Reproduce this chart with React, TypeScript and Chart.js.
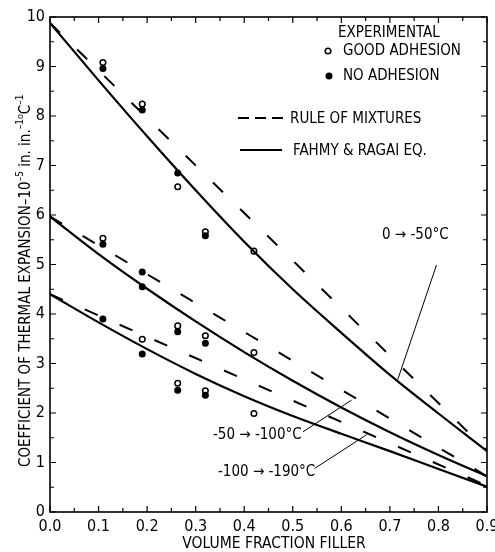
import React, { useEffect, useRef } from 'react';
import { Chart, registerables } from 'chart.js';
Chart.register(...registerables);

const FONT = "'Liberation Sans Narrow', 'DejaVu Sans Condensed', 'Liberation Sans', sans-serif";

// axis ticks
const xTickValues = [0, 0.1, 0.2, 0.3, 0.4, 0.5, 0.6, 0.7, 0.8, 0.9];
const yTickValues = [0, 1, 2, 3, 4, 5, 6, 7, 8, 9, 10];

// Fahmy & Ragai equation curves
const fraction = [0, 0.1, 0.2, 0.3, 0.4, 0.5, 0.6, 0.7, 0.8, 0.9];
const fahmyTop = [9.88, 8.72, 7.59, 6.5, 5.46, 4.5, 3.62, 2.77, 1.99, 1.23];
const fahmyMid = [5.97, 5.21, 4.51, 3.85, 3.23, 2.65, 2.11, 1.61, 1.15, 0.72];
const fahmyLow = [4.4, 3.83, 3.29, 2.79, 2.34, 1.94, 1.58, 1.23, 0.87, 0.51];

// rule of mixtures (linear)
const romX = [0, 0.9];
const romTop = [9.88, 1.24];
const romMid = [5.97, 0.72];
const romLow = [4.4, 0.53];

// experimental points: good adhesion (open)
const goodTopX = [0.109, 0.19, 0.263, 0.32, 0.42];
const goodTopY = [9.08, 8.24, 6.57, 5.66, 5.27];
const goodMidX = [0.109, 0.263, 0.32, 0.42];
const goodMidY = [5.53, 3.76, 3.56, 3.22];
const goodLowX = [0.19, 0.263, 0.32, 0.42];
const goodLowY = [3.49, 2.6, 2.45, 1.99];

// experimental points: no adhesion (filled)
const noTopX = [0.109, 0.19, 0.263, 0.32];
const noTopY = [8.96, 8.12, 6.85, 5.58];
const noMidX = [0.109, 0.19, 0.19, 0.263, 0.32];
const noMidY = [5.41, 4.85, 4.55, 3.64, 3.41];
const noLowX = [0.109, 0.19, 0.263, 0.32];
const noLowY = [3.9, 3.19, 2.46, 2.36];

// curve labels with leader lines (from label end -> to curve, in data units)
const curveLabels = ['0 → -50°C', '-50 → -100°C', '-100 → -190°C'];
const leaderFromX = [0.796, 0.521, 0.545];
const leaderFromY = [4.99, 1.62, 0.88];
const leaderToX = [0.716, 0.621, 0.652];
const leaderToY = [2.67, 2.26, 1.56];

const pts = (xs: number[], ys: number[]) => xs.map((x, i) => ({ x, y: ys[i] }));

export default function App() {
  const ref = useRef<HTMLCanvasElement>(null);

  useEffect(() => {
    if (!ref.current) return;

    const decor = {
      id: 'decor',
      afterDraw(chart: any) {
        const { ctx, chartArea: a, scales } = chart;
        const x = scales.x;
        const y = scales.y;
        ctx.save();
        ctx.strokeStyle = '#000';
        ctx.fillStyle = '#000';

        // frame
        ctx.lineWidth = 1.6;
        ctx.strokeRect(a.left, a.top, a.right - a.left, a.bottom - a.top);

        // inward ticks
        ctx.lineWidth = 1.2;
        ctx.beginPath();
        for (let i = 0; i <= 18; i++) {
          const px = x.getPixelForValue(i * 0.05);
          const len = i % 2 === 0 ? 6 : 4;
          ctx.moveTo(px, a.bottom);
          ctx.lineTo(px, a.bottom - len);
          ctx.moveTo(px, a.top);
          ctx.lineTo(px, a.top + len);
        }
        for (let i = 0; i <= 20; i++) {
          const py = y.getPixelForValue(i * 0.5);
          const len = i % 2 === 0 ? 6 : 4;
          ctx.moveTo(a.left, py);
          ctx.lineTo(a.left + len, py);
          ctx.moveTo(a.right, py);
          ctx.lineTo(a.right - len, py);
        }
        ctx.stroke();

        // legend
        ctx.textBaseline = 'middle';
        ctx.textAlign = 'left';
        ctx.font = `15px ${FONT}`;
        ctx.fillText('EXPERIMENTAL', 338, 33);
        ctx.fillText('GOOD ADHESION', 343, 51);
        ctx.fillText('NO ADHESION', 343, 76);
        ctx.fillText('RULE OF MIXTURES', 290, 119);
        ctx.fillText('FAHMY & RAGAI EQ.', 293, 151);
        ctx.lineWidth = 1.5;
        ctx.beginPath();
        ctx.arc(328, 51, 2.8, 0, Math.PI * 2);
        ctx.fillStyle = '#fff';
        ctx.fill();
        ctx.stroke();
        ctx.fillStyle = '#000';
        ctx.beginPath();
        ctx.arc(329, 76, 3.5, 0, Math.PI * 2);
        ctx.fill();
        ctx.lineWidth = 2;
        ctx.beginPath();
        for (let i = 0; i < 3; i++) {
          ctx.moveTo(238 + i * 17, 118);
          ctx.lineTo(238 + i * 17 + 11, 118);
        }
        ctx.moveTo(240, 150);
        ctx.lineTo(282, 150);
        ctx.stroke();

        // curve labels
        ctx.font = `15px ${FONT}`;
        const labelPos = [
          [382, 235],
          [213, 435],
          [218, 472],
        ];
        curveLabels.forEach((t, i) => {
          ctx.fillText(t, labelPos[i][0], labelPos[i][1]);
        });
        ctx.lineWidth = 1;
        ctx.beginPath();
        for (let i = 0; i < curveLabels.length; i++) {
          ctx.moveTo(x.getPixelForValue(leaderFromX[i]), y.getPixelForValue(leaderFromY[i]));
          ctx.lineTo(x.getPixelForValue(leaderToX[i]), y.getPixelForValue(leaderToY[i]));
        }
        ctx.stroke();

        // x title
        ctx.textAlign = 'center';
        ctx.font = `15.5px ${FONT}`;
        ctx.fillText('VOLUME FRACTION FILLER', 274, 544);

        // y title (rotated, with superscripts)
        ctx.save();
        ctx.translate(24, 467);
        ctx.rotate(-Math.PI / 2);
        ctx.textAlign = 'left';
        ctx.textBaseline = 'alphabetic';
        const parts: [string, number, number][] = [
          ['COEFFICIENT OF THERMAL EXPANSION–10', 15, 0],
          ['–5', 10, -7],
          [' in. in.', 15, 0],
          ['–1', 10, -7],
          ['o', 9, -7],
          ['C', 15, 0],
          ['–1', 10, -7],
        ];
        let cx = 0;
        for (const [t, size, dy] of parts) {
          ctx.font = `${size}px ${FONT}`;
          ctx.fillText(t, cx, 6 + dy);
          cx += ctx.measureText(t).width;
        }
        ctx.restore();

        ctx.restore();
      },
    };

    const curve = (data: any[], dashed: boolean) => ({
      data,
      showLine: true,
      borderColor: '#000',
      borderWidth: dashed ? 2 : 2.2,
      borderDash: dashed ? [14, 24] : [],
      pointRadius: 0,
      tension: dashed ? 0 : 0.4,
      cubicInterpolationMode: 'monotone' as const,
      fill: false,
    });
    const marks = (data: any[], open: boolean) => ({
      data,
      showLine: false,
      pointRadius: open ? 2.8 : 3.5,
      pointBorderWidth: open ? 1.5 : 0,
      pointBackgroundColor: open ? '#fff' : '#000',
      pointBorderColor: '#000',
      borderColor: '#000',
      backgroundColor: open ? '#fff' : '#000',
    });

    const chart = new Chart(ref.current, {
      type: 'scatter',
      data: {
        datasets: [
          curve(pts(fraction, fahmyTop), false),
          curve(pts(fraction, fahmyMid), false),
          curve(pts(fraction, fahmyLow), false),
          curve(pts(romX, romTop), true),
          curve(pts(romX, romMid), true),
          curve(pts(romX, romLow), true),
          marks(pts(noTopX, noTopY), false),
          marks(pts(noMidX, noMidY), false),
          marks(pts(noLowX, noLowY), false),
          marks(pts(goodTopX, goodTopY), true),
          marks(pts(goodMidX, goodMidY), true),
          marks(pts(goodLowX, goodLowY), true),
        ] as any,
      },
      options: {
        responsive: false,
        animation: false,
        devicePixelRatio: 1,
        layout: { padding: { top: 17, right: 8, left: 0, bottom: 0 }, autoPadding: false } as any,
        plugins: { legend: { display: false }, tooltip: { enabled: false } },
        scales: {
          x: {
            type: 'linear',
            min: 0,
            max: 0.9,
            grid: { display: false, drawTicks: false },
            border: { display: false },
            afterBuildTicks: (s: any) => {
              s.ticks = xTickValues.map((v) => ({ value: v }));
            },
            afterFit: (s: any) => {
              s.height = 40;
              s.paddingLeft = 0;
              s.paddingRight = 0;
            },
            ticks: {
              color: '#000',
              padding: 5,
              maxRotation: 0,
              autoSkip: false,
              font: { family: FONT, size: 16 },
              callback: (v: any) => Number(v).toFixed(1),
            },
          },
          y: {
            type: 'linear',
            min: 0,
            max: 10,
            grid: { display: false, drawTicks: false },
            border: { display: false },
            afterBuildTicks: (s: any) => {
              s.ticks = yTickValues.map((v) => ({ value: v }));
            },
            afterFit: (s: any) => {
              s.width = 50;
              s.paddingTop = 0;
              s.paddingBottom = 0;
            },
            ticks: {
              color: '#000',
              padding: 5,
              autoSkip: false,
              font: { family: FONT, size: 16 },
              callback: (v: any) => String(v),
            },
          },
        },
      } as any,
      plugins: [decor],
    });
    return () => chart.destroy();
  }, []);

  return (
    <div style={{ position: 'absolute', left: 0, top: 0, width: 495, height: 552, background: '#fff' }}>
      <canvas ref={ref} width={495} height={552} />
    </div>
  );
}
